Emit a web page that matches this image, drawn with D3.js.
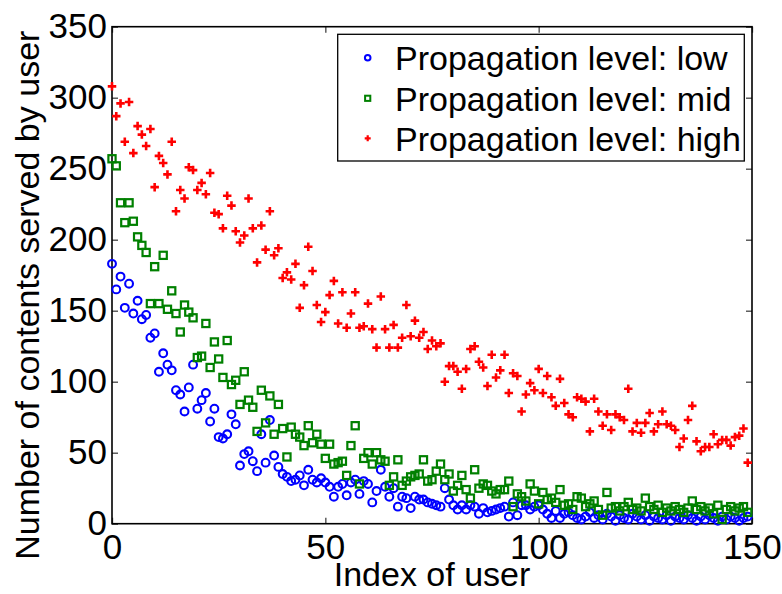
<!DOCTYPE html>
<html><head><meta charset="utf-8">
<script src="https://cdn.jsdelivr.net/npm/d3@7/dist/d3.min.js"></script>
<style>body{margin:0;background:#fff}svg{display:block}</style>
</head><body>
<script>
const lowValues = [183,165,174,152,169,148,157,144,147,131,134,107,120,112,108,94,91,79,96,112,81,87,92,72,81,61,60,63,77,70,41,49,51,44,37,63,43,73,48,40,35,33,30,31,34,27,38,31,29,32,29,26,19,26,28,20,29,31,21,30,28,15,23,38,26,19,25,12,19,18,11,19,17,17,15,14,13,12,25,17,13,10,13,10,13,12,7,11,8,9,10,11,12,5,15,6,13,13,10,12,13,10,7,4,9,4,7,8,6,4,3,5,8,4,6,3,7,5,2,6,4,3,7,5,3,6,2,5,4,3,6,2,5,4,3,6,4,2,5,3,6,4,2,5,3,5,4,2,4,5];
const midValues = [257,252,226,212,226,213,202,196,191,155,181,155,189,151,164,148,135,154,149,145,117,118,141,110,128,116,103,129,98,101,84,107,87,82,65,94,71,90,63,84,67,47,68,63,61,55,69,57,63,56,46,56,42,43,44,34,55,69,28,46,50,42,50,45,44,27,33,45,27,30,33,34,35,45,30,31,37,42,31,35,23,27,34,24,18,38,25,28,27,23,21,24,24,30,12,21,19,16,28,23,14,22,17,18,15,24,13,14,10,19,18,12,14,16,10,6,22,11,12,9,12,15,10,11,9,18,12,10,13,8,11,9,12,10,8,11,16,10,12,9,11,7,13,3,10,12,9,11,12,8];
const highValues = [308,287,296,269,297,261,280,274,266,278,237,259,254,246,269,220,235,229,251,249,235,240,232,247,219,218,208,231,224,206,198,203,229,208,184,210,193,220,189,194,173,177,172,183,152,168,195,178,154,142,149,161,171,141,163,138,148,163,138,139,155,137,124,160,137,124,140,124,131,154,132,143,131,135,123,129,125,127,100,111,111,107,95,109,123,125,114,110,97,119,103,108,119,92,106,104,79,91,99,94,109,92,104,89,83,102,85,77,75,89,88,86,65,88,79,69,77,66,77,75,73,95,65,71,64,71,78,65,70,79,70,69,66,54,60,73,83,58,51,54,54,63,56,59,59,55,61,62,67,43];
const seriesNames = ["Propagation level: low","Propagation level: mid","Propagation level: high"];
const xTicks = [0,50,100,150];
const yTicks = [0,50,100,150,200,250,300,350];
const xLabel = "Index of user";
const yLabel = "Number of contents served by user";

const W=782,H=594;
const m={left:112,right:752,top:26.7,bottom:523.7};
const svg=d3.select("body").append("svg").attr("width",W).attr("height",H);
const x=d3.scaleLinear().domain([0,150]).range([m.left,m.right]);
const y=d3.scaleLinear().domain([0,350]).range([m.bottom,m.top]);
const font="'Liberation Sans', Arial, Helvetica, sans-serif";

const xa=svg.append("g").attr("transform",`translate(0,${m.bottom})`)
  .call(d3.axisBottom(x).tickValues(xTicks).tickSize(-6).tickPadding(10).tickFormat(d3.format("d")));
const xt=svg.append("g").attr("transform",`translate(0,${m.top})`)
  .call(d3.axisTop(x).tickValues(xTicks).tickSize(-6).tickFormat(""));
const ya=svg.append("g").attr("transform",`translate(${m.left},0)`)
  .call(d3.axisLeft(y).tickValues(yTicks).tickSize(-6).tickPadding(5).tickFormat(d3.format("d")));
const yr=svg.append("g").attr("transform",`translate(${m.right},0)`)
  .call(d3.axisRight(y).tickValues(yTicks).tickSize(-6).tickFormat(""));
[xa,xt,ya,yr].forEach(g=>{
  g.select(".domain").remove();
  g.selectAll(".tick line").attr("stroke","#444").attr("stroke-width",1.3);
  g.selectAll("text").attr("font-family",font).attr("font-size",35).attr("fill","#000");
});
xa.selectAll("text").attr("dy","0.72em");
svg.append("rect").attr("x",m.left).attr("y",m.top).attr("width",m.right-m.left).attr("height",m.bottom-m.top)
  .attr("fill","none").attr("stroke","#000").attr("stroke-width",1.6);

svg.append("text").attr("x",(m.left+m.right)/2).attr("y",586).attr("text-anchor","middle")
  .attr("font-family",font).attr("font-size",34).text(xLabel);
svg.append("text").attr("transform",`translate(39,${(m.top+m.bottom)/2+20}) rotate(-90)`).attr("text-anchor","middle")
  .attr("font-family",font).attr("font-size",34).text(yLabel);

const plot=svg.append("g");
function drawCircle(g,cx,cy,r,w){g.append("circle").attr("cx",cx).attr("cy",cy).attr("r",r).attr("fill","none").attr("stroke","#0000ff").attr("stroke-width",w);}
function drawSquare(g,cx,cy,s,w){g.append("rect").attr("x",cx-s/2).attr("y",cy-s/2).attr("width",s).attr("height",s).attr("fill","none").attr("stroke","#008000").attr("stroke-width",w);}
function drawPlus(g,cx,cy,s,w){g.append("path").attr("d",`M${cx-s/2},${cy}H${cx+s/2}M${cx},${cy-s/2}V${cy+s/2}`).attr("stroke","#ff0000").attr("stroke-width",w).attr("fill","none");}
lowValues.forEach((v,i)=>drawCircle(plot,x(i),y(v),3.9,2.1));
midValues.forEach((v,i)=>drawSquare(plot,x(i),y(v),7.2,2.2));
highValues.forEach((v,i)=>drawPlus(plot,x(i),y(v),8.5,2.6));

const lg=svg.append("g");
lg.append("rect").attr("x",337.7).attr("y",34.3).attr("width",406.6).attr("height",126.7).attr("fill","#fff").attr("stroke","#000").attr("stroke-width",1.3);
const rowsY=[57.7,98.3,138.3];
drawCircle(lg,367.7,rowsY[0],2.8,2);
drawSquare(lg,367.7,rowsY[1],5.2,2);
drawPlus(lg,367.7,rowsY[2],6,2.2);
seriesNames.forEach((n,i)=>lg.append("text").attr("x",395).attr("y",rowsY[i]).attr("dy","0.36em")
  .attr("font-family",font).attr("font-size",34).text(n));
</script>
</body></html>
